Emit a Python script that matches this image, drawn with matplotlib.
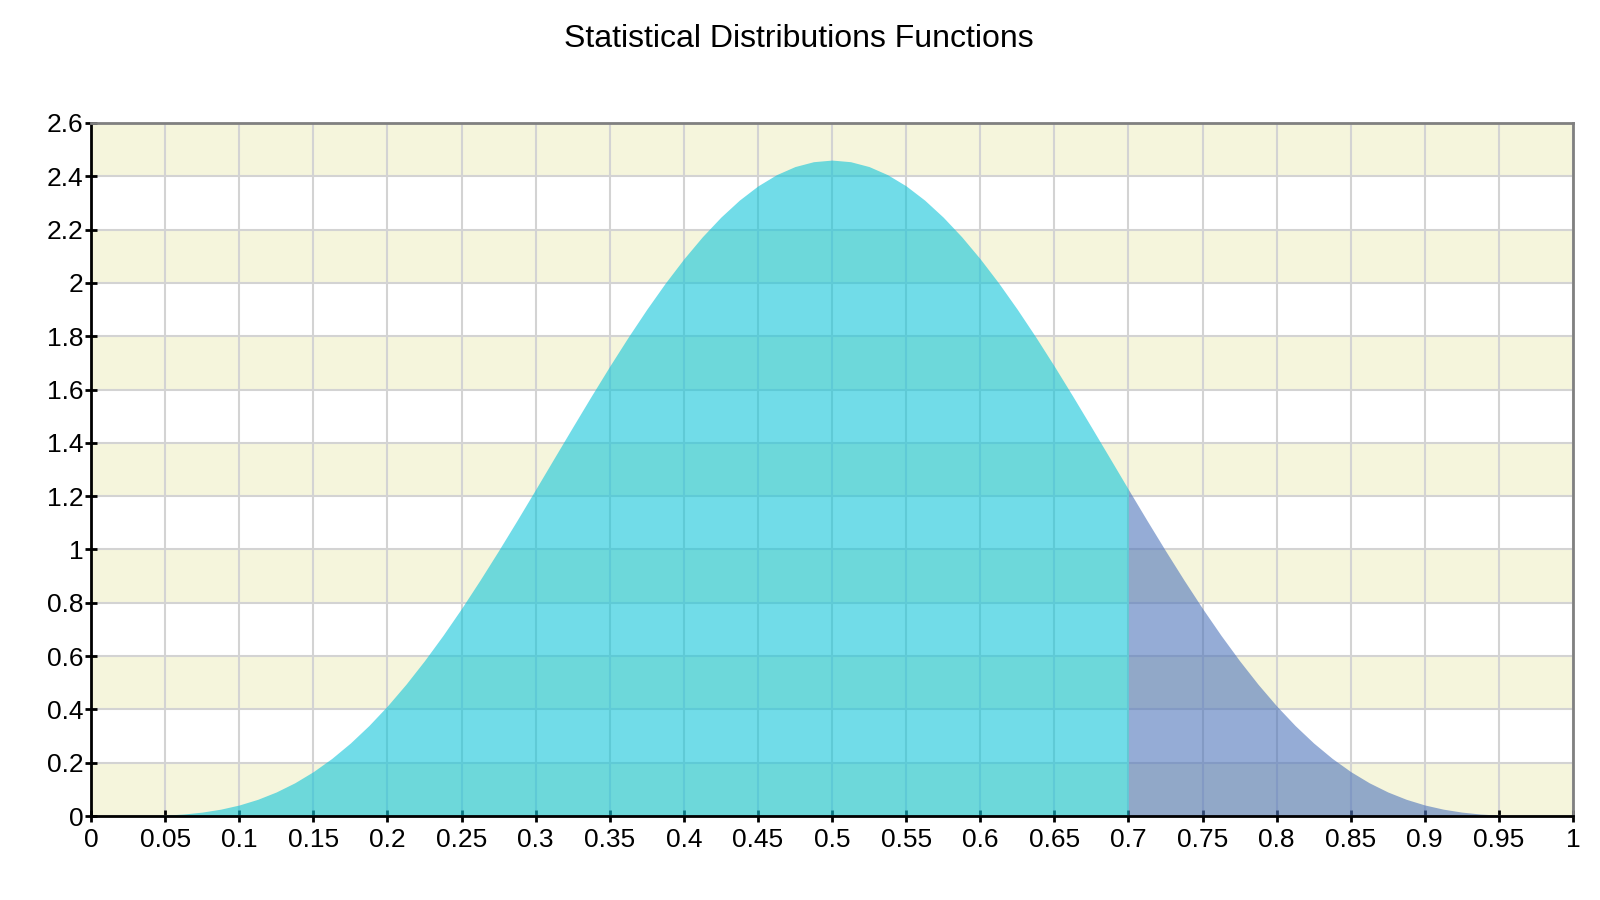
import matplotlib
matplotlib.use('Agg')
import matplotlib.pyplot as plt

plt.rcParams['font.family'] = ['Liberation Sans', 'DejaVu Sans']

# values, step 0.0125
x_vals = [i * 0.0125 for i in range(81)]
half = [0, 0.0000, 0.0002, 0.0011, 0.0032, 0.0074, 0.0146, 0.0256, 0.0413, 0.0626,
        0.0902, 0.1246, 0.1665, 0.2161, 0.2737, 0.3393, 0.4129, 0.4941, 0.5826, 0.6776,
        0.7786, 0.8850, 0.9955, 1.1092, 1.2252, 1.3423, 1.459, 1.5746, 1.6876, 1.7968,
        1.901, 1.9992, 2.0902, 2.1731, 2.2468, 2.3107, 2.364, 2.4060, 2.4365, 2.4548]
y_vals = half + [2.4609] + half[::-1]

split_x = 0.7
x_ticks = [i * 0.05 for i in range(21)]
x_labels = ['0', '0.05', '0.1', '0.15', '0.2', '0.25', '0.3', '0.35', '0.4', '0.45', '0.5',
            '0.55', '0.6', '0.65', '0.7', '0.75', '0.8', '0.85', '0.9', '0.95', '1']
y_ticks = [i * 0.2 for i in range(14)]
y_labels = ['0', '0.2', '0.4', '0.6', '0.8', '1', '1.2', '1.4', '1.6', '1.8', '2', '2.2', '2.4', '2.6']

fig = plt.figure(figsize=(16, 9), dpi=100)
ax = fig.add_axes([91 / 1600, 84 / 900, 1482 / 1600, 693 / 900])

for i in range(0, 13, 2):
    ax.axhspan(y_ticks[i], y_ticks[i + 1], color='#f5f5dc', zorder=0, lw=0)

ax.grid(True, color='#d3d3d3', linewidth=1.5, zorder=1)
ax.set_axisbelow(True)

n_left = sum(1 for x in x_vals if x <= split_x + 1e-9)
ax.fill_between(x_vals[:n_left], y_vals[:n_left], 0,
                color='#12c5d9', alpha=0.6, lw=0, zorder=2)
ax.fill_between(x_vals[n_left - 1:], y_vals[n_left - 1:], 0,
                color='#4e75bb', alpha=0.6, lw=0, zorder=2)

ax.set_xlim(0, 1)
ax.set_ylim(0, 2.6)
ax.set_xticks(x_ticks)
ax.set_xticklabels(x_labels)
ax.set_yticks(y_ticks)
ax.set_yticklabels(y_labels)
ax.tick_params(labelsize=19, length=9, width=2, direction='inout', pad=1, color='black')
ax.tick_params(axis='x', pad=4)

for s in ['left', 'bottom']:
    ax.spines[s].set_color('black')
    ax.spines[s].set_linewidth(2)
for s in ['top', 'right']:
    ax.spines[s].set_color('#808080')
    ax.spines[s].set_linewidth(2)

fig.text(799 / 1600, 1 - 47 / 900, 'Statistical Distributions Functions',
         ha='center', va='baseline', fontsize=23)

fig.savefig('out.png', dpi=100)
